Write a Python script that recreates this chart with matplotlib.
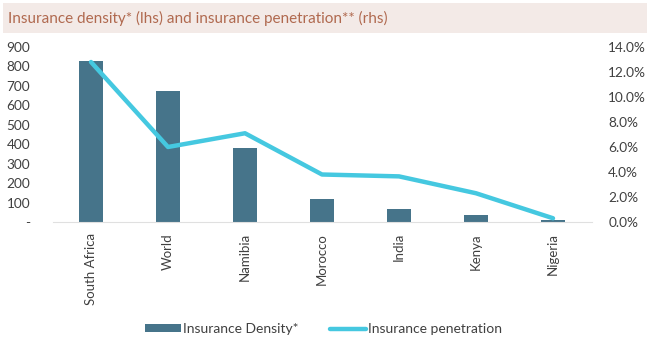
import matplotlib
matplotlib.use("Agg")
import matplotlib.pyplot as plt
from matplotlib.patches import Rectangle
from matplotlib.ticker import FuncFormatter

plt.rcParams["font.family"] = ["Lato", "DejaVu Sans"]

countries = ["South Africa", "World", "Namibia", "Morocco", "India", "Kenya", "Nigeria"]
density = [828, 672, 383, 119, 67, 36, 10]               # USD per capita
penetration = [12.8, 6.0, 7.1, 3.8, 3.65, 2.3, 0.3]      # % of GDP

BAR_COLOR = "#46748a"
LINE_COLOR = "#45c8e0"
TEXT_COLOR = "#404040"

fig = plt.figure(figsize=(6.47, 3.46), dpi=100)

# title band
fig.patches.append(Rectangle((3 / 647, 1 - 33 / 346), 644 / 647, 30 / 346,
                             transform=fig.transFigure, facecolor="#f3eae7",
                             edgecolor="none", zorder=0))
fig.text(8 / 647, 1 - 18 / 346,
         "Insurance density* (lhs) and insurance penetration** (rhs)",
         color="#b0694f", fontsize=11, va="center", ha="left")

ax = fig.add_axes([52.5 / 647, 124 / 346, 539 / 647, 175 / 346])
x = range(len(countries))
bars = ax.bar(x, density, width=0.31, color=BAR_COLOR, label="Insurance Density*", zorder=2)
ax.set_xlim(-0.5, len(countries) - 0.5)
ax.set_ylim(0, 900)
ax.set_yticks(range(0, 901, 100))
ax.yaxis.set_major_formatter(FuncFormatter(lambda v, _: "-" if v == 0 else f"{v:.0f}"))
ax.set_xticks(list(x))
ax.set_xticklabels(countries, rotation=90, fontsize=9.5, color=TEXT_COLOR)

ax2 = ax.twinx()
line, = ax2.plot(x, penetration, color=LINE_COLOR, lw=3.2, solid_capstyle="round",
                 label="Insurance penetration", zorder=3)
ax2.set_ylim(0, 14)
ax2.set_yticks(range(0, 15, 2))
ax2.yaxis.set_major_formatter(FuncFormatter(lambda v, _: f"{v:.1f}%"))

for a in (ax, ax2):
    for side in ("top", "left", "right", "bottom"):
        a.spines[side].set_visible(False)
    a.tick_params(length=0, labelsize=9.8, labelcolor=TEXT_COLOR)
ax.spines["bottom"].set_visible(True)
ax.spines["bottom"].set_color("#e0e0e0")
ax.tick_params(axis="y", pad=16)
ax.tick_params(axis="x", pad=8, labelsize=9.5)
ax2.tick_params(axis="y", pad=12)

fig.legend([bars, line], ["Insurance Density*", "Insurance penetration"],
           loc="center", bbox_to_anchor=(0.5, 1 - 329 / 346), ncol=2, frameon=False,
           fontsize=10, labelcolor=TEXT_COLOR, handlelength=2.6, handleheight=0.5,
           columnspacing=2.2, handletextpad=0.2)

fig.savefig("out.png", dpi=100)
